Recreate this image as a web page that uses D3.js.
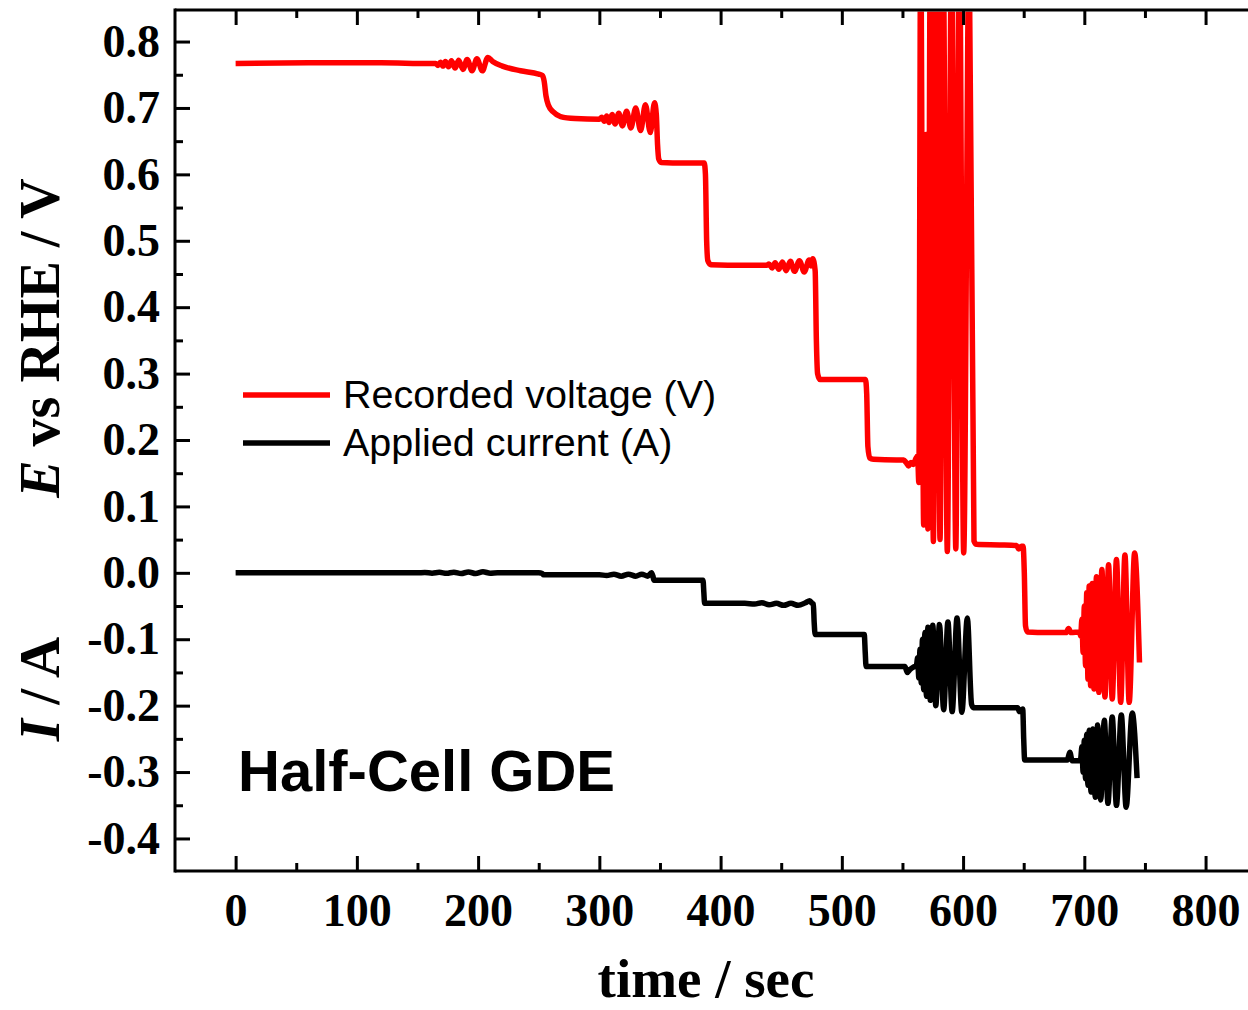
<!DOCTYPE html>
<html>
<head>
<meta charset="utf-8">
<script src="https://cdn.jsdelivr.net/npm/d3@7"></script>
<style>
  body { margin: 0; background: #fff; }
  svg { display: block; }
</style>
</head>
<body>
<svg id="chart" width="1248" height="1010"></svg>
<script>
// recorded voltage vs time  [sec, V]
const voltage = [
  [0,0.767],[60,0.768],[120,0.768],[160,0.767],
  [165,0.767],[167,0.764],[169,0.769],[171,0.763],[173,0.770],[175.5,0.762],[178,0.771],[181,0.760],
  [184,0.772],[187.5,0.758],[191,0.773],[195,0.756],[199,0.774],[203.5,0.756],[208,0.776],
  [212,0.770],[220,0.763],[235,0.756],[250,0.751],[253,0.749],
  [254.5,0.740],[256,0.718],[258,0.704],[262,0.694],[268,0.687],[280,0.684],[300,0.683],
  [302,0.686],[304,0.680],[306,0.688],[308,0.678],[310.5,0.690],[313,0.676],[316,0.692],[319,0.673],
  [322.5,0.695],[326,0.670],[330,0.700],[334,0.666],[338,0.705],[342,0.663],[345.5,0.708],
  [347,0.690],[348,0.645],[349,0.623],[351,0.618],[370,0.617],[386.5,0.617],
  [387.5,0.600],[388.5,0.500],[389.5,0.470],[392,0.464],[420,0.463],[438,0.463],
  [440,0.465],[442.5,0.459],[445,0.467],[448,0.457],[451,0.468],[454,0.455],[457.5,0.469],[461,0.454],
  [465,0.470],[469,0.453],[473,0.471],[474.5,0.462],[476,0.473],
  [478,0.455],[479,0.350],[480,0.300],[482,0.291],[500,0.291],[519.5,0.291],
  [520.5,0.270],[521.5,0.190],[523,0.173],[526,0.171],[545,0.170],[551,0.170],
  [553,0.166],[555,0.161],[557,0.166],[559,0.163],[561,0.172],[562.5,0.176],
  [563.5,0.136],[565,0.95],[567.5,0.072],[569.5,0.66],[571,0.066],[573,0.95],[575.5,0.047],[578,0.95],
  [581,0.050],[583.5,0.95],[587,0.032],[590.5,0.95],[594,0.036],[597,0.95],[600.5,0.030],[605,0.95],
  [609,0.048],[611,0.043],[630,0.042],[644,0.041],[646,0.036],[648,0.040],[649.5,0.040],
  [650.5,0.000],[651.5,-0.080],[653,-0.089],[670,-0.090],[685,-0.090],[687,-0.084],[689,-0.090],[696,-0.089],
  [697,-0.095],[698,-0.070],[699,-0.120],[700,-0.050],[701,-0.140],[702,-0.030],[703,-0.160],[704,-0.020],
  [705.2,-0.170],[706.5,-0.016],[708,-0.175],[710,-0.006],[712,-0.180],[714.5,0.005],[717,-0.187],
  [720,0.012],[723,-0.190],[726.5,0.020],[730,-0.195],[733.5,0.027],[737,-0.195],[741.5,0.030],[745.5,-0.135]
];

// applied current vs time  [sec, A]
const current = [
  [0,0.000],[60,0.000],[120,0.000],[150,0.000],
  [156,0.0005],[162,-0.0005],[168,0.0008],[174,-0.0008],[180,0.001],[186,-0.001],[192,0.0012],[198,-0.001],
  [204,0.0015],[210,-0.0005],[216,0.000],[250,0.000],[253,-0.001],[254,-0.003],[290,-0.003],
  [300,-0.003],[306,-0.004],[312,-0.002],[318,-0.005],[324,-0.002],[330,-0.005],[335,-0.002],[340,-0.005],
  [343,0.000],[344.2,-0.005],[345,-0.011],[370,-0.011],[385.5,-0.011],
  [386.2,-0.030],[386.8,-0.046],[420,-0.046],
  [428,-0.047],[434,-0.045],[440,-0.048],[446,-0.046],[452,-0.049],[458,-0.046],[464,-0.049],[470,-0.045],
  [473.5,-0.042],[475.5,-0.046],[476.5,-0.047],
  [477.2,-0.075],[478,-0.093],[500,-0.093],[518.5,-0.093],
  [519.3,-0.120],[520,-0.141],[545,-0.141],[552,-0.141],
  [554,-0.150],[556,-0.146],[559,-0.142],[561.5,-0.140],
  [562.5,-0.128],[563.5,-0.158],[564.5,-0.115],[565.5,-0.166],[566.5,-0.100],[567.5,-0.176],[568.5,-0.090],
  [569.8,-0.186],[571,-0.082],[573,-0.192],[575,-0.079],[577.5,-0.200],[580.5,-0.078],[584,-0.206],
  [587.5,-0.074],[591,-0.209],[595,-0.068],[599,-0.210],[603.5,-0.068],[607,-0.198],[608.5,-0.203],
  [630,-0.203],[645,-0.203],[646.5,-0.209],[648,-0.207],[649.2,-0.205],
  [650,-0.250],[650.8,-0.282],[670,-0.282],[686,-0.282],[688,-0.270],[690,-0.283],[696,-0.283],
  [697,-0.280],[698,-0.262],[699,-0.300],[700,-0.252],[701,-0.310],[702,-0.243],[703,-0.320],[704,-0.237],
  [705.5,-0.330],[707,-0.235],[709,-0.338],[711,-0.229],[713.5,-0.342],[716.5,-0.222],[719.5,-0.347],
  [723,-0.217],[726.5,-0.350],[730.5,-0.214],[734.5,-0.353],[739.5,-0.211],[743.5,-0.309]
];

const xTicks = [0, 100, 200, 300, 400, 500, 600, 700, 800];
const xMinor = [50, 150, 250, 350, 450, 550, 650, 750];
const yTicks = [-0.4, -0.3, -0.2, -0.1, 0.0, 0.1, 0.2, 0.3, 0.4, 0.5, 0.6, 0.7, 0.8];
const yMinor = [-0.35, -0.25, -0.15, -0.05, 0.05, 0.15, 0.25, 0.35, 0.45, 0.55, 0.65, 0.75];
const legendItems = [
  { label: "Recorded voltage (V)", color: "#ff0000" },
  { label: "Applied current (A)", color: "#000000" }
];

const svg = d3.select("#chart");
const L = 175, T = 10, R = 1248, B = 871;

const x = d3.scaleLinear().domain([-50, 835]).range([L, R]);
const y = d3.scaleLinear().domain([-0.449, 0.8475]).range([B, T]);

svg.append("rect").attr("width", 1248).attr("height", 1010).attr("fill", "#fff");

svg.append("defs").append("clipPath").attr("id", "plotclip")
  .append("rect").attr("x", L + 1.5).attr("y", T + 1.5)
  .attr("width", R - L - 1.5).attr("height", B - T - 3);

// data lines
const line = d3.line()
  .x(d => x(d[0]))
  .y(d => y(d[1]))
  .curve(d3.curveMonotoneX);

const plot = svg.append("g").attr("clip-path", "url(#plotclip)");
plot.append("path").datum(current)
  .attr("d", line).attr("fill", "none")
  .attr("stroke", "#000").attr("stroke-width", 5.5).attr("stroke-linejoin", "round");
plot.append("path").datum(voltage)
  .attr("d", line).attr("fill", "none")
  .attr("stroke", "#ff0000").attr("stroke-width", 5.5).attr("stroke-linejoin", "round");

// axes: ticks pointing inward
function styleAxis(g) {
  g.select(".domain").remove();
  g.selectAll(".tick line").attr("stroke", "#000").attr("stroke-width", 3);
  g.selectAll(".tick text")
    .attr("fill", "#000")
    .style("font-family", "'Liberation Serif', 'Times New Roman', serif")
    .style("font-weight", "bold")
    .style("font-size", "46px");
}

svg.append("g").attr("transform", `translate(0,${B})`)
  .call(d3.axisBottom(x).tickValues(xTicks).tickSize(-15).tickPadding(22).tickFormat(d => String(d)))
  .call(styleAxis)
  .selectAll(".tick text").attr("dy", "0.71em");
svg.append("g").attr("transform", `translate(0,${B})`)
  .call(d3.axisBottom(x).tickValues(xMinor).tickSize(-8).tickFormat(""))
  .call(styleAxis);

svg.append("g").attr("transform", `translate(0,${T})`)
  .call(d3.axisTop(x).tickValues(xTicks).tickSize(-15).tickFormat(""))
  .call(styleAxis);
svg.append("g").attr("transform", `translate(0,${T})`)
  .call(d3.axisTop(x).tickValues(xMinor).tickSize(-8).tickFormat(""))
  .call(styleAxis);

svg.append("g").attr("transform", `translate(${L},0)`)
  .call(d3.axisLeft(y).tickValues(yTicks).tickSize(-15).tickPadding(15).tickFormat(d => d.toFixed(1)))
  .call(styleAxis);
svg.append("g").attr("transform", `translate(${L},0)`)
  .call(d3.axisLeft(y).tickValues(yMinor).tickSize(-8).tickFormat(""))
  .call(styleAxis);

// frame (no right spine)
const frame = svg.append("g").attr("stroke", "#000").attr("stroke-width", 3);
frame.append("line").attr("x1", L).attr("x2", L).attr("y1", T - 1.5).attr("y2", B + 1.5);
frame.append("line").attr("x1", L).attr("x2", R).attr("y1", T).attr("y2", T);
frame.append("line").attr("x1", L).attr("x2", R).attr("y1", B).attr("y2", B);

// axis titles
const serif = "'Liberation Serif', 'Times New Roman', serif";
svg.append("text")
  .attr("x", 706).attr("y", 997)
  .attr("text-anchor", "middle")
  .style("font-family", serif).style("font-weight", "bold").style("font-size", "55px")
  .text("time / sec");

const yt1 = svg.append("text")
  .attr("transform", "translate(59,689) rotate(-90)")
  .attr("text-anchor", "middle")
  .style("font-family", serif).style("font-weight", "bold").style("font-size", "57px");
yt1.append("tspan").style("font-style", "italic").text("I");
yt1.append("tspan").text(" / A");

const yt2 = svg.append("text")
  .attr("transform", "translate(59,338) rotate(-90)")
  .attr("text-anchor", "middle")
  .style("font-family", serif).style("font-weight", "bold").style("font-size", "56px");
yt2.append("tspan").style("font-style", "italic").text("E");
yt2.append("tspan").text(" vs RHE / V");

// legend
const sans = "'Liberation Sans', Arial, sans-serif";
const lg = svg.append("g");
legendItems.forEach((d, i) => {
  const yy = 395 + i * 48;
  lg.append("line").attr("x1", 243).attr("x2", 330).attr("y1", yy).attr("y2", yy)
    .attr("stroke", d.color).attr("stroke-width", 5.5);
  lg.append("text").attr("x", 343).attr("y", yy + 13)
    .style("font-family", sans).style("font-size", "39.5px").attr("fill", "#000")
    .text(d.label);
});

svg.append("text")
  .attr("x", 238).attr("y", 791)
  .style("font-family", sans).style("font-weight", "bold").style("font-size", "58px")
  .text("Half-Cell GDE");
</script>
</body>
</html>
